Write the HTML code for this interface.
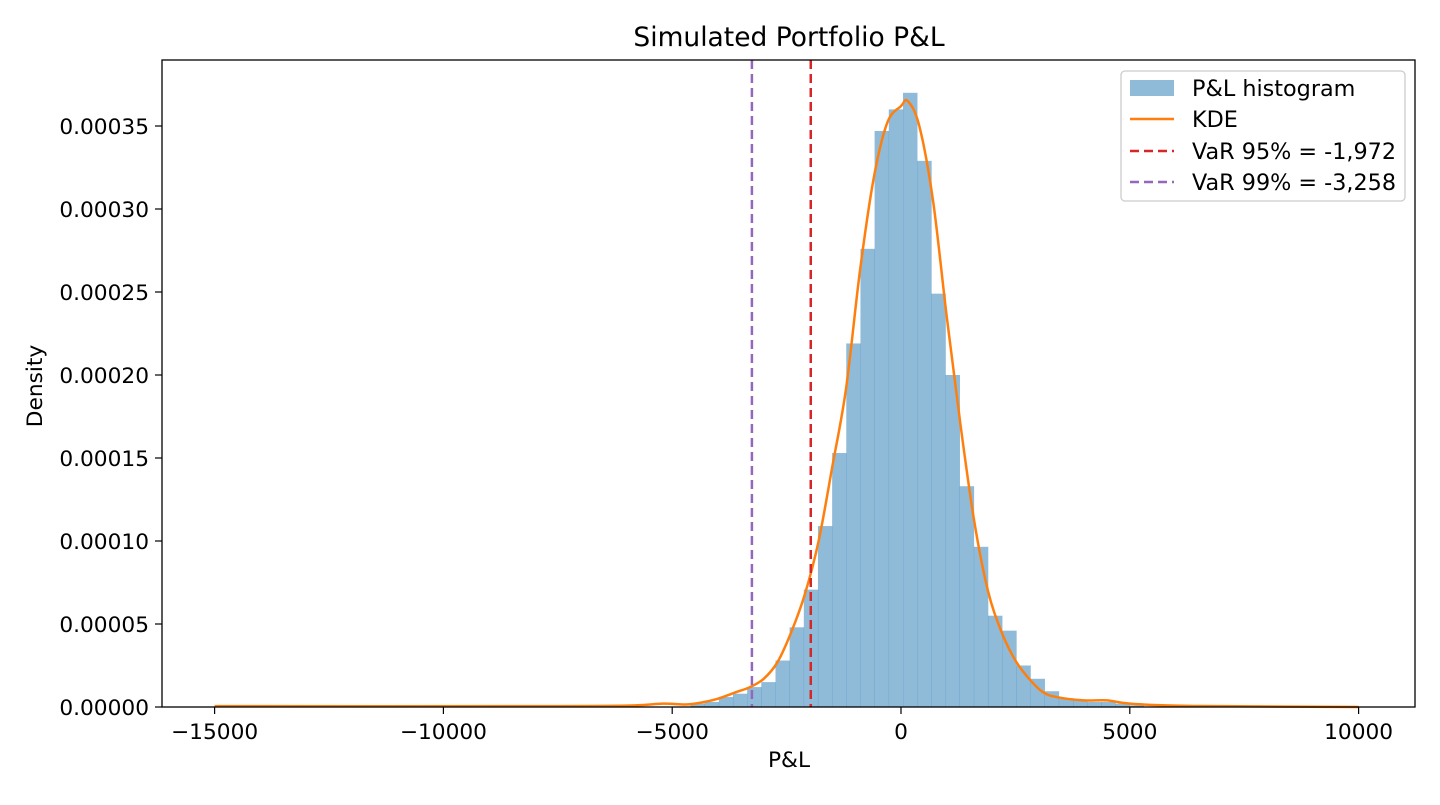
<!DOCTYPE html>
<html><head><meta charset="utf-8"><style>
body{margin:0;background:#fff;font-family:"Liberation Sans","DejaVu Sans",sans-serif}
svg text{font-family:"DejaVu Sans","Liberation Sans",sans-serif;fill:#000}
</style></head><body>
<svg id="chart" width="1440" height="800">
<text x="789" y="46" font-size="26.5" text-anchor="middle">Simulated Portfolio P&amp;L</text>
<g id="bars"></g>
<g id="lines"></g>
<rect x="162" y="60" width="1253" height="647" fill="none" stroke="#000" stroke-width="1.3"/>
<g id="xticks"></g>
<g id="yticks"></g>
<text x="789" y="767" font-size="21.7" text-anchor="middle">P&amp;L</text>
<text transform="translate(42,386) rotate(-90)" font-size="21.7" text-anchor="middle">Density</text>
<g>
<rect x="1121" y="71" width="284" height="130" rx="4" fill="#fff" fill-opacity="0.8" stroke="#ccc" stroke-width="1.3"/>
<rect x="1130" y="80" width="44" height="16" fill="#1f77b4" fill-opacity="0.5"/>
<text x="1192" y="96" font-size="22.3">P&amp;L histogram</text>
<line x1="1130" y1="119" x2="1174" y2="119" stroke="#ff7f0e" stroke-width="2.5"/>
<text x="1192" y="127" font-size="22.3">KDE</text>
<line x1="1130" y1="151" x2="1174" y2="151" stroke="#d62728" stroke-width="2.5" stroke-dasharray="9,5"/>
<text x="1192" y="159" font-size="22.3">VaR 95% = -1,972</text>
<line x1="1130" y1="182" x2="1174" y2="182" stroke="#9467bd" stroke-width="2.5" stroke-dasharray="9,5"/>
<text x="1192" y="190" font-size="22.3">VaR 99% = -3,258</text>
</g>
</svg>
<script>
const binStarts=[-4600,-4291,-3981,-3672,-3362,-3053,-2743,-2434,-2124,-1815,-1505,-1196,-886,-577,-267,44,354,663,973,1282,1592,1901,2211,2520,2830,3139,3449,3758,4068,4377,4687,4996];
const binDensity=[0.000002,0.000003,0.000006,0.000008,0.000012,0.000015,0.000028,0.000048,0.0000707,0.000109,0.000153,0.000219,0.000276,0.000347,0.00036,0.00037,0.000329,0.000249,0.0002,0.000133,0.0000965,0.000055,0.000046,0.000025,0.000017,0.0000095,0.0000053,0.000004,0.000003,0.000003,0.000002,0.000001];
const binWidth=309.5;
const kdeX=[-15000,-8000,-6000,-5200,-4700,-4300,-4000,-3600,-3300,-3000,-2700,-2400,-2100,-1800,-1500,-1200,-900,-600,-300,0,150,400,700,1000,1300,1600,1900,2200,2500,2800,3100,3400,4000,4500,5000,6000,7000,10000];
const kdeY=[0.0000005,0.0000005,0.0000008,0.000002,0.0000015,0.000003,0.000005,0.000009,0.000012,0.000017,0.000027,0.000045,0.000068,0.0001,0.000145,0.000192,0.000262,0.000318,0.000352,0.000362,0.000365,0.00035,0.000305,0.000235,0.00017,0.000112,0.00007,0.000045,0.000028,0.000017,0.000009,0.000006,0.000004,0.000004,0.000002,0.0000008,0.0000005,0];
const var95=-1972, var99=-3258;
const xTicks=[-15000,-10000,-5000,0,5000,10000];
const xTickLabels=["\u221215000","\u221210000","\u22125000","0","5000","10000"];
const yTicks=[0,0.00005,0.0001,0.00015,0.0002,0.00025,0.0003,0.00035];
const yTickLabels=["0.00000","0.00005","0.00010","0.00015","0.00020","0.00025","0.00030","0.00035"];
const NS="http://www.w3.org/2000/svg";
const X=v=>901+v*0.04576;
const Y=v=>707-v/0.00005*83;
function mk(t,a,p){const e=document.createElementNS(NS,t);for(const k in a)e.setAttribute(k,a[k]);p.appendChild(e);return e;}
const bars=document.getElementById('bars');
binStarts.forEach((s,i)=>{
 const x0=X(s),x1=X(s+binWidth);
 const r=mk('rect',{x:x0,y:Y(binDensity[i]),width:x1-x0+0.3,height:707-Y(binDensity[i]),fill:'#1f77b4','fill-opacity':0.5},bars);
 
 
});
const lines=document.getElementById('lines');
const P=kdeX.map((v,i)=>[X(v),Y(kdeY[i])]);
let d='M'+P[0][0]+','+P[0][1];
for(let i=0;i<P.length-1;i++){
 const p0=P[Math.max(0,i-1)],p1=P[i],p2=P[i+1],p3=P[Math.min(P.length-1,i+2)];
 const c1=[p1[0]+(p2[0]-p0[0])/6,p1[1]+(p2[1]-p0[1])/6];
 const c2=[p2[0]-(p3[0]-p1[0])/6,p2[1]-(p3[1]-p1[1])/6];
 d+='C'+c1[0]+','+Math.min(707,c1[1])+' '+c2[0]+','+Math.min(707,c2[1])+' '+p2[0]+','+p2[1];
}
const kde=mk('path',{d:d,fill:'none',stroke:'#ff7f0e','stroke-width':2.5,'stroke-linejoin':'round'},lines);


const l95=mk('line',{x1:X(var95),x2:X(var95),y1:60,y2:707,stroke:'#d62728','stroke-width':2.5,'stroke-dasharray':'9,5'},lines);


const l99=mk('line',{x1:X(var99),x2:X(var99),y1:60,y2:707,stroke:'#9467bd','stroke-width':2.5,'stroke-dasharray':'9,5'},lines);


const xg=document.getElementById('xticks');
xTicks.forEach((v,i)=>{
 mk('line',{x1:X(v),x2:X(v),y1:707,y2:714,stroke:'#000','stroke-width':1.2},xg);
 const t=mk('text',{x:X(v),y:739,'font-size':21.7,'text-anchor':'middle'},xg);t.textContent=xTickLabels[i];
 
 
});
const yg=document.getElementById('yticks');
yTicks.forEach((v,i)=>{
 mk('line',{x1:155,x2:162,y1:Y(v),y2:Y(v),stroke:'#000','stroke-width':1.2},yg);
 const t=mk('text',{x:149,y:Y(v)+8,'font-size':21.7,'text-anchor':'end'},yg);t.textContent=yTickLabels[i];
 
 
});
</script>
</body></html>
